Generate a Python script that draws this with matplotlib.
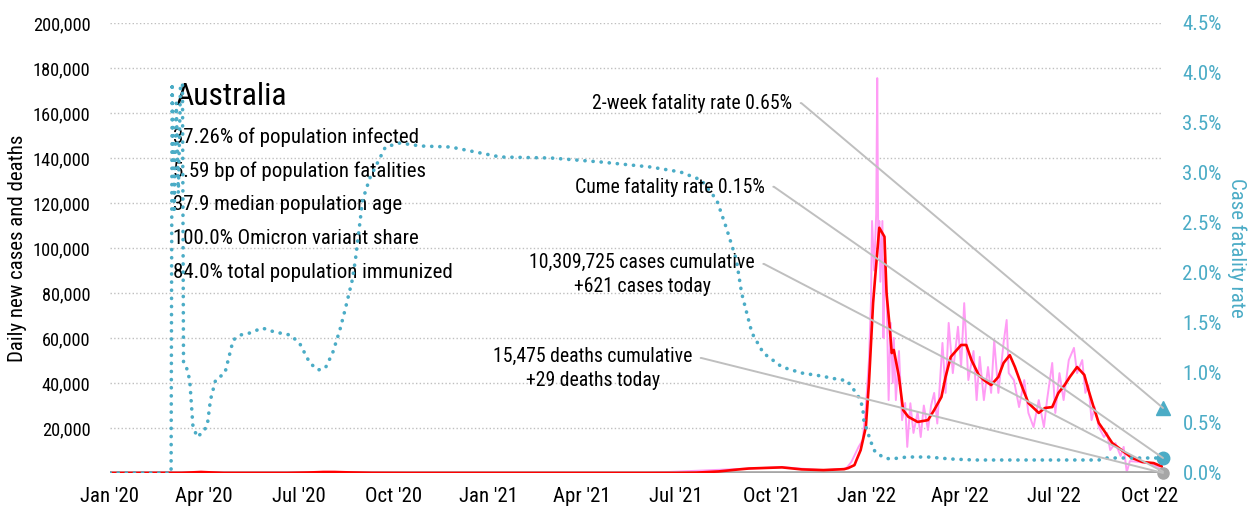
import pandas as pd
import matplotlib
matplotlib.use("Agg")
import matplotlib.pyplot as plt
import matplotlib.dates as mdates
import matplotlib.ticker as mticker
from matplotlib import font_manager

# pick a narrow sans if one is around, the reference uses a condensed face
installed = {(f.name, f.stretch) for f in font_manager.fontManager.ttflist}
names = {n for n, s in installed}
FONT, FS = 'DejaVu Sans', 13
for cand, size in [('Liberation Sans Narrow', 15), ('Roboto Condensed', 15), ('Arial Narrow', 15)]:
    if cand in names:
        FONT, FS = cand, size
        break
else:
    if ('DejaVu Sans', 'condensed') in installed or ('DejaVu Sans', 'semi-condensed') in installed:
        FONT, FS = 'DejaVu Sans', 14
        plt.rcParams['font.stretch'] = 'condensed'
    elif 'Roboto' in names:
        FONT, FS = 'Roboto', 14
plt.rcParams['font.family'] = [FONT, 'DejaVu Sans']

# ---- data ----
# 7-day average of new cases (red)
avg_dates = ["2020-01-01", "2020-03-10", "2020-03-22", "2020-03-29", "2020-04-08", "2020-04-20",
             "2020-06-20", "2020-07-10", "2020-07-25", "2020-08-05", "2020-08-20", "2020-09-10",
             "2020-10-15", "2021-06-01", "2021-07-01", "2021-07-20", "2021-08-11", "2021-08-28",
             "2021-09-09", "2021-10-11", "2021-10-30", "2021-11-20", "2021-12-10", "2021-12-14",
             "2021-12-20", "2021-12-22", "2021-12-26", "2021-12-31", "2022-01-03", "2022-01-07",
             "2022-01-09", "2022-01-13", "2022-01-18", "2022-01-20", "2022-01-23", "2022-01-25",
             "2022-01-27", "2022-02-01", "2022-02-05", "2022-02-10", "2022-02-19", "2022-03-01",
             "2022-03-07", "2022-03-14", "2022-03-18", "2022-03-23", "2022-04-02", "2022-04-07",
             "2022-04-12", "2022-04-19", "2022-04-24", "2022-05-01", "2022-05-08", "2022-05-13",
             "2022-05-19", "2022-05-24", "2022-05-31", "2022-06-06", "2022-06-16", "2022-06-22",
             "2022-06-29", "2022-07-05", "2022-07-11", "2022-07-16", "2022-07-23", "2022-07-30",
             "2022-08-03", "2022-08-08", "2022-08-13", "2022-08-19", "2022-08-26", "2022-09-04",
             "2022-09-14", "2022-09-24", "2022-10-05", "2022-10-14"]
avg_cases = [0, 50, 300, 450, 250, 30,
             20, 200, 450, 450, 250, 60,
             15, 10, 30, 150, 700, 1500,
             2000, 2500, 1600, 1300, 1700, 2200,
             3500, 5800, 10200, 20400, 40000, 75500,
             87000, 109000, 105000, 80000, 65000, 53300,
             54700, 42700, 28000, 25000, 22700, 23500,
             28000, 33800, 42700, 51600, 56900, 56900,
             50200, 43600, 41300, 39100, 42700, 48900,
             52400, 47100, 38200, 31100, 26700, 28900,
             29300, 35600, 39100, 42700, 47100, 43600,
             36900, 29300, 22200, 18200, 13300, 10200,
             6700, 4900, 4400, 2700]

# daily new cases (pink)
daily_dates = ["2020-01-01", "2020-03-28", "2020-05-01", "2020-08-01", "2020-10-01", "2021-06-01",
               "2021-09-10", "2021-10-11", "2021-11-20", "2021-12-12", "2021-12-17", "2021-12-24",
               "2021-12-28", "2021-12-31", "2022-01-03", "2022-01-05", "2022-01-06", "2022-01-08",
               "2022-01-10", "2022-01-11", "2022-01-12", "2022-01-13", "2022-01-14", "2022-01-16",
               "2022-01-17", "2022-01-18", "2022-01-20", "2022-01-22", "2022-01-24", "2022-01-26",
               "2022-01-27", "2022-01-29", "2022-02-01", "2022-02-04", "2022-02-07", "2022-02-09",
               "2022-02-12", "2022-02-15", "2022-02-19", "2022-02-22", "2022-02-25", "2022-03-01",
               "2022-03-04", "2022-03-07", "2022-03-10", "2022-03-15", "2022-03-18", "2022-03-21",
               "2022-03-25", "2022-03-30", "2022-04-02", "2022-04-05", "2022-04-09", "2022-04-14",
               "2022-04-17", "2022-04-20", "2022-04-24", "2022-04-28", "2022-05-01", "2022-05-04",
               "2022-05-08", "2022-05-13", "2022-05-16", "2022-05-18", "2022-05-23", "2022-05-28",
               "2022-06-02", "2022-06-06", "2022-06-11", "2022-06-16", "2022-06-21", "2022-06-24",
               "2022-06-29", "2022-07-02", "2022-07-06", "2022-07-10", "2022-07-15", "2022-07-20",
               "2022-07-23", "2022-07-28", "2022-07-31", "2022-08-03", "2022-08-06", "2022-08-09",
               "2022-08-13", "2022-08-18", "2022-08-21", "2022-08-24", "2022-08-29", "2022-09-03",
               "2022-09-06", "2022-09-09", "2022-09-12", "2022-09-21", "2022-09-30", "2022-10-09",
               "2022-10-14"]
daily_cases = [0, 500, 20, 500, 20, 10,
               2000, 2600, 1200, 2000, 4900, 11600,
               14700, 29300, 50000, 76900, 112000, 90000,
               115000, 175500, 100000, 112000, 85000, 112000,
               60000, 95000, 80000, 32400, 66700, 40000,
               60000, 32400, 54200, 23500, 31100, 11600,
               31000, 17800, 27000, 16000, 30000, 19100,
               30000, 35600, 22000, 57800, 35600, 66700,
               44400, 65000, 47100, 75500, 41300, 54200,
               32400, 51600, 32400, 47100, 35600, 59000,
               35600, 57800, 68000, 44400, 41300, 29300,
               41300, 26700, 20400, 32400, 20400, 32400,
               48900, 26700, 44400, 32400, 50200, 55600,
               44400, 50200, 35600, 39000, 23500, 29300,
               20400, 16000, 17800, 10200, 13300, 7600,
               11600, 400, 5300, 4900, 4400, 2700,
               621]

# daily deaths (grey) - tiny on this scale
death_dates = ["2020-01-01", "2020-04-10", "2020-08-20", "2021-06-01", "2021-10-10",
               "2022-01-20", "2022-04-15", "2022-07-25", "2022-10-14"]
daily_deaths = [0, 5, 18, 0, 12, 80, 40, 75, 29]

# case fatality rate, % (teal dotted, right axis)
cfr_dates = ["2020-01-01", "2020-02-29", "2020-03-01", "2020-03-03", "2020-03-05", "2020-03-07",
             "2020-03-09", "2020-03-11", "2020-03-12", "2020-03-15", "2020-03-18", "2020-03-21",
             "2020-03-25", "2020-03-31", "2020-04-04", "2020-04-07", "2020-04-12", "2020-04-21",
             "2020-04-29", "2020-05-06", "2020-05-15", "2020-05-27", "2020-06-08", "2020-06-23",
             "2020-07-02", "2020-07-12", "2020-07-20", "2020-07-27", "2020-08-03", "2020-08-10",
             "2020-08-15", "2020-08-22", "2020-08-25", "2020-09-01", "2020-09-08", "2020-09-23",
             "2020-10-07", "2020-10-27", "2020-11-25", "2021-01-12", "2021-03-02", "2021-04-19",
             "2021-06-06", "2021-07-05", "2021-07-25", "2021-08-09", "2021-08-18", "2021-08-28",
             "2021-09-02", "2021-09-12", "2021-09-23", "2021-10-11", "2021-10-30", "2021-11-18",
             "2021-12-07", "2021-12-12", "2021-12-17", "2021-12-24", "2021-12-28", "2021-12-29",
             "2022-01-02", "2022-01-06", "2022-01-09", "2022-01-18", "2022-01-24", "2022-02-09",
             "2022-03-01", "2022-03-23", "2022-04-15", "2022-06-15", "2022-08-13", "2022-08-20",
             "2022-10-14"]
cfr_pct = [0, 0, 3.9, 2.6, 3.7, 2.8,
           3.85, 3.9, 1.1, 1.05, 0.93, 0.48,
           0.36, 0.41, 0.48, 0.73, 0.93, 1.0,
           1.33, 1.38, 1.40, 1.45, 1.41, 1.38,
           1.30, 1.10, 1.03, 1.05, 1.20, 1.43,
           1.63, 1.93, 2.13, 2.73, 2.95, 3.26,
           3.30, 3.27, 3.26, 3.16, 3.15, 3.11,
           3.06, 3.01, 2.93, 2.73, 2.46, 2.13,
           1.80, 1.40, 1.20, 1.06, 1.00, 0.97,
           0.93, 0.93, 0.87, 0.76, 0.66, 0.53,
           0.40, 0.28, 0.21, 0.15, 0.14, 0.16,
           0.16, 0.14, 0.13, 0.13, 0.13, 0.15,
           0.15]

country = "Australia"
facts = ["37.26% of population infected",
         "5.59 bp of population fatalities",
         "37.9 median population age",
         "100.0% Omicron variant share",
         "84.0% total population immunized"]
two_week_cfr = 0.65
cume_cfr = 0.15
cases_cum = 10309725
cases_today = 621
deaths_cum = 15475
deaths_today = 29

TEAL = '#4BACC6'
RED = '#FF0000'
PINK = '#FF9CF5'
GREY = '#A6A6A6'
LIGHT = '#BFBFBF'

avg_x = pd.to_datetime(avg_dates)
daily_x = pd.to_datetime(daily_dates)
death_x = pd.to_datetime(death_dates)
cfr_x = pd.to_datetime(cfr_dates)
last_day = daily_x[-1]

fig = plt.figure(figsize=(12.51, 5.12), dpi=100)
ax = fig.add_axes([110 / 1251, 39 / 512, 1053 / 1251, 450 / 512])
ax2 = ax.twinx()

# left axis: cases and deaths
ax.plot(daily_x, daily_cases, color=PINK, lw=1.4, zorder=2)
ax.plot(death_x, daily_deaths, color=GREY, lw=2.6, zorder=3)
ax.plot(avg_x, avg_cases, color=RED, lw=1.9, zorder=4)
ax.plot([last_day], [cases_today], 'o', color=PINK, ms=6, zorder=5, clip_on=False)
ax.plot([last_day], [deaths_today], 'o', color=GREY, ms=8, zorder=6, clip_on=False)

ax.set_ylim(0, 200000)
ax.set_xlim(pd.Timestamp("2020-01-01"), last_day)
ax.set_yticks(range(20000, 200001, 20000))
ax.yaxis.set_major_formatter(mticker.FuncFormatter(lambda v, p: f"{int(v):,}"))
ax.grid(axis='y', color=LIGHT, ls=':', lw=1)
ax.set_axisbelow(True)
ax.xaxis.set_major_locator(mdates.MonthLocator(bymonth=[1, 4, 7, 10]))
ax.xaxis.set_major_formatter(mdates.DateFormatter("%b '%y"))
ax.tick_params(axis='both', length=0)
ax.tick_params(axis='x', pad=10, labelsize=FS)
ax.tick_params(axis='y', pad=14, labelsize=FS * 0.88)
ax.set_ylabel("Daily new cases and deaths", fontsize=FS)
ax.yaxis.set_label_coords(-0.079, 0.5)
for s in ax.spines.values():
    s.set_visible(False)

# right axis: case fatality rate
ax2.plot(cfr_x, cfr_pct, color=TEAL, lw=2.6, ls=(0, (0.05, 2.2)),
         dash_capstyle='round')
ax2.plot([last_day], [two_week_cfr], '^', color=TEAL, ms=10, clip_on=False)
ax2.plot([last_day], [cume_cfr], 'o', color=TEAL, ms=9, clip_on=False)
ax2.set_ylim(0, 4.5)
ax2.set_yticks([i * 0.5 for i in range(10)])
ax2.yaxis.set_major_formatter(mticker.FuncFormatter(lambda v, p: f"{v:.1f}%"))
ax2.tick_params(axis='y', length=0, labelsize=FS, colors=TEAL, pad=14)
ax2.set_ylabel("Case fatality rate", fontsize=FS, color=TEAL, rotation=270, va='center')
ax2.yaxis.set_label_coords(1.07, 0.5)
for s in ax2.spines.values():
    s.set_visible(False)

# country block
ax.text(0.062, 0.836, country, transform=ax.transAxes, fontsize=FS * 1.52, va='center', ha='left')
for i, line in enumerate(facts):
    ax.text(0.060, 0.747 - i * 0.0755, line, transform=ax.transAxes, fontsize=FS,
            va='center', ha='left')

# callouts with leader lines
conn = "arc,angleA=0,angleB=0,armA=9,armB=0,rad=0"
callouts = [
    (f"2-week fatality rate {two_week_cfr:.2f}%", two_week_cfr, (0.648, 0.822), (1, 0.5)),
    (f"Cume fatality rate {cume_cfr:.2f}%", cume_cfr, (0.622, 0.636), (1, 0.5)),
    (f"{cases_cum:,} cases cumulative\n+{cases_today:,} cases today",
     cases_today / 200000 * 4.5, (0.6125, 0.441), (1, 0.75)),
    (f"{deaths_cum:,} deaths cumulative\n+{deaths_today:,} deaths today",
     deaths_today / 200000 * 4.5, (0.553, 0.232), (1, 0.75)),
]
for label, yval, pos, rel in callouts:
    ax2.annotate(label, xy=(last_day, yval), xycoords='data',
                 xytext=pos, textcoords='axes fraction',
                 ha='right', va='center', multialignment='center', fontsize=FS * 0.95,
                 linespacing=1.3,
                 arrowprops=dict(arrowstyle='-', color=LIGHT, lw=1.4, relpos=rel,
                                 connectionstyle=conn, shrinkA=4, shrinkB=0))

fig.savefig("out.png", dpi=100)
